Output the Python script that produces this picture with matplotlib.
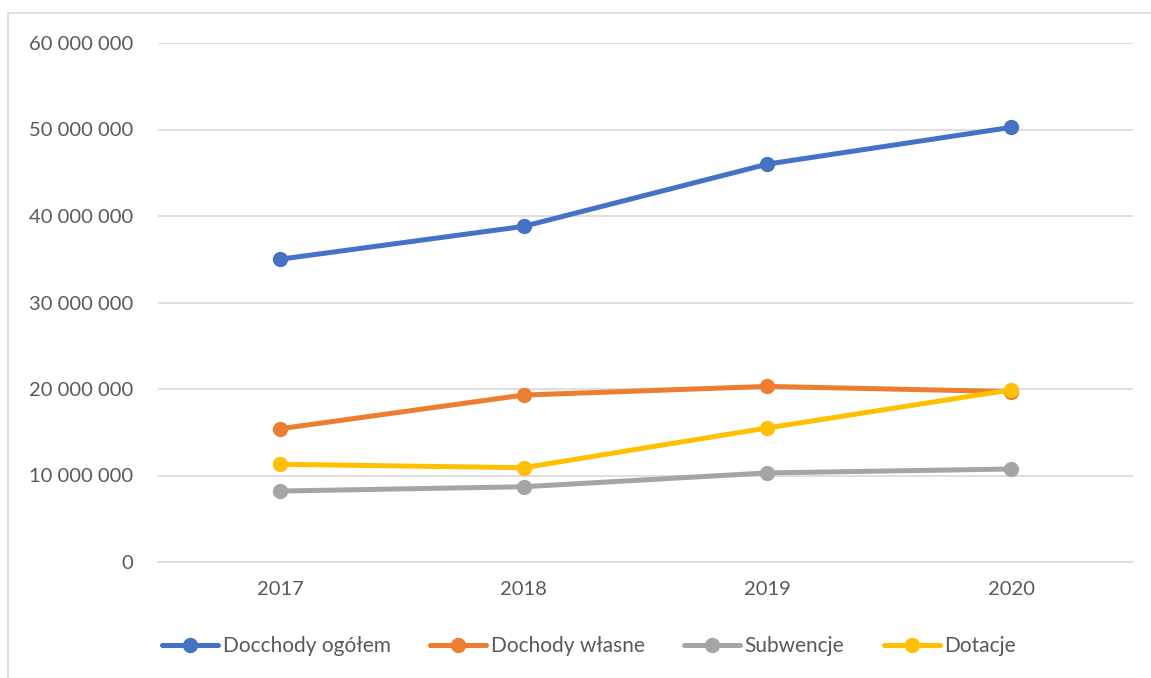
import matplotlib.pyplot as plt
from matplotlib.ticker import FuncFormatter
from matplotlib.patches import Rectangle

# dane
lata = ["2017", "2018", "2019", "2020"]
dochody_ogolem = [35.0e6, 38.8e6, 46.0e6, 50.25e6]
dochody_wlasne = [15.4e6, 19.3e6, 20.3e6, 19.7e6]
subwencje = [8.2e6, 8.7e6, 10.3e6, 10.75e6]
dotacje = [11.3e6, 10.9e6, 15.5e6, 19.9e6]

serie = [
    ("Docchody ogółem", dochody_ogolem, "#4472C4"),
    ("Dochody własne", dochody_wlasne, "#ED7D31"),
    ("Subwencje", subwencje, "#A5A5A5"),
    ("Dotacje", dotacje, "#FFC000"),
]

plt.rcParams["font.family"] = ["Lato", "DejaVu Sans"]

fig = plt.figure(figsize=(11.51, 6.78), dpi=100)
ax = fig.add_axes([158 / 1151, 1 - 562 / 678, 975 / 1151, 519 / 678])

x = range(len(lata))
for nazwa, wartosci, kolor in serie:
    ax.plot(x, wartosci, color=kolor, lw=3.6, marker="o", ms=10,
            label=nazwa, solid_capstyle="round", zorder=3)

ax.set_xlim(-0.5, len(lata) - 0.5)
ax.set_ylim(0, 60e6)
ax.set_yticks(range(0, 60000001, 10000000))
ax.yaxis.set_major_formatter(FuncFormatter(lambda v, p: f"{int(v):,}".replace(",", " ")))
ax.set_xticks(list(x))
ax.set_xticklabels(lata)

ax.grid(axis="y", color="#D9D9D9", lw=1.2)
ax.set_axisbelow(True)
for s in ["top", "right", "left"]:
    ax.spines[s].set_visible(False)
ax.spines["bottom"].set_color("#D9D9D9")
ax.spines["bottom"].set_linewidth(1.2)
ax.tick_params(length=0, labelsize=14.5, colors="#595959")
ax.tick_params(axis="y", pad=18)
ax.tick_params(axis="x", pad=14)

leg = fig.legend(loc="center", bbox_to_anchor=(589 / 1151, 1 - 646 / 678), ncol=4,
                 frameon=False, fontsize=15, handlelength=2.7,
                 handletextpad=0.2, columnspacing=1.9)
for t in leg.get_texts():
    t.set_color("#595959")

# ramka wykresu
fig.patches.append(Rectangle((8 / 1151, -0.1), 1.2, 1 - 13 / 678 + 0.1,
                             transform=fig.transFigure, fill=False,
                             edgecolor="#D9D9D9", lw=1.2))

fig.savefig("out.png", dpi=100)
